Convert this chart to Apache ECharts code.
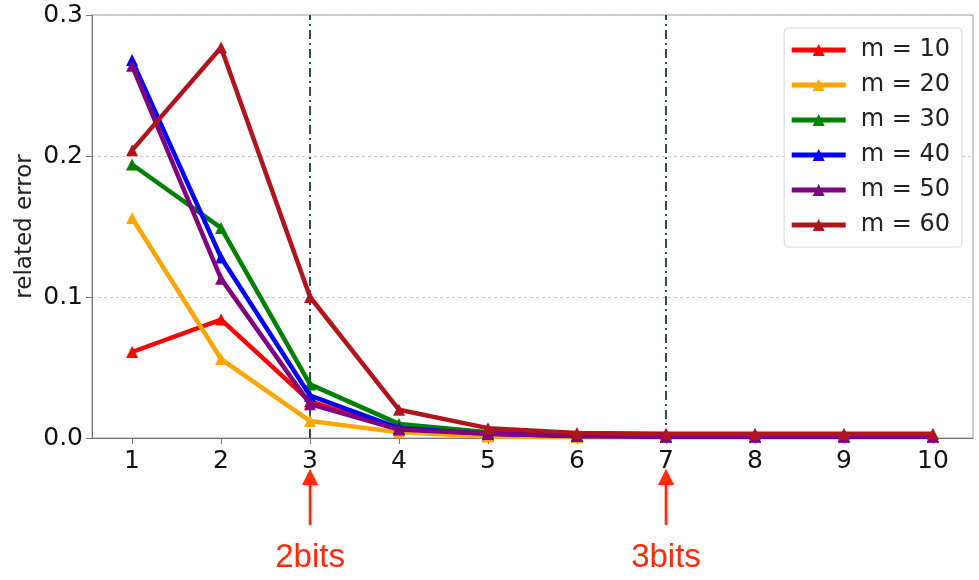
<!DOCTYPE html>
<html>
<head>
<meta charset="utf-8">
<script src="https://cdn.jsdelivr.net/npm/echarts@6/dist/echarts.min.js"></script>
<style>
  html, body { margin: 0; padding: 0; background: #fff; }
  #chart { width: 979px; height: 580px; }
</style>
</head>
<body>
<div id="chart"></div>
<script>
// Number of bits index on the x axis
const xValues = [1, 2, 3, 4, 5, 6, 7, 8, 9, 10];
const yTicks = [0, 0.1, 0.2, 0.3];

// Related error per setting of m
const errM10 = [0.061, 0.084, 0.026, 0.006, 0.002, 0.001, 0.001, 0.001, 0.001, 0.001];
const errM20 = [0.156, 0.056, 0.012, 0.004, 0.001, 0.0005, 0.0005, 0.0005, 0.0005, 0.0005];
const errM30 = [0.194, 0.149, 0.038, 0.010, 0.004, 0.002, 0.0015, 0.0015, 0.0015, 0.0015];
const errM40 = [0.268, 0.128, 0.030, 0.007, 0.003, 0.0015, 0.001, 0.001, 0.001, 0.001];
const errM50 = [0.264, 0.113, 0.024, 0.006, 0.003, 0.0015, 0.001, 0.001, 0.001, 0.001];
const errM60 = [0.204, 0.277, 0.100, 0.020, 0.007, 0.0035, 0.003, 0.003, 0.003, 0.003];

const seriesNames = ['m = 10', 'm = 20', 'm = 30', 'm = 40', 'm = 50', 'm = 60'];
const seriesData = [errM10, errM20, errM30, errM40, errM50, errM60];
const seriesColors = ['#ff0000', '#ffa500', '#008000', '#0000ff', '#800080', '#b0141e'];

// Bit-boundary markers
const bitMarks = [3, 7];
const bitLabels = ['2bits', '3bits'];

const chart = echarts.init(document.getElementById('chart'), null, { renderer: 'canvas' });

const font = 'DejaVu Sans';

const series = seriesData.map((vals, i) => {
  const s = {
    name: seriesNames[i],
    type: 'line',
    data: vals.map((v, k) => [xValues[k], v]),
    symbol: 'triangle',
    symbolSize: 12,
    showAllSymbol: true,
    lineStyle: { width: 4.5, color: seriesColors[i] },
    itemStyle: { color: seriesColors[i] },
    z: 3 + i,
    animation: false
  };
  if (i === 0) {
    s.markLine = {
      silent: true,
      symbol: 'none',
      label: { show: false },
      lineStyle: { color: '#2f4f4f', width: 2, type: [9, 4, 2, 4] },
      data: bitMarks.map(b => ({ xAxis: b })),
      z: 2
    };
  }
  return s;
});

chart.setOption({
  animation: false,
  backgroundColor: '#ffffff',
  grid: {
    left: 92, right: 6, top: 15, bottom: 142,
    show: true, borderColor: '#999', borderWidth: 1, backgroundColor: 'transparent'
  },
  legend: {
    orient: 'vertical',
    right: 17, top: 28,
    data: seriesNames,
    itemWidth: 54, itemHeight: 15,
    itemGap: 11,
    padding: [10, 12, 10, 5],
    backgroundColor: '#fff',
    borderColor: '#d8d8d8',
    borderWidth: 1,
    borderRadius: 4,
    lineStyle: { width: 5 },
    textStyle: { fontFamily: font, fontSize: 24, color: '#222', padding: [0, 0, 0, 10] }
  },
  xAxis: {
    type: 'value',
    min: 0.55, max: 10.45,
    axisLine: { show: true, lineStyle: { color: '#777', width: 1 } },
    axisTick: { show: true, length: 6, lineStyle: { color: '#777' }, customValues: xValues },
    axisLabel: {
      fontFamily: font, fontSize: 25, color: '#111', margin: 11,
      customValues: xValues,
      formatter: v => String(v)
    },
    splitLine: { show: false }
  },
  yAxis: {
    type: 'value',
    min: 0, max: 0.3, interval: 0.1,
    name: 'related error',
    nameLocation: 'middle',
    nameGap: 55,
    nameMoveOverlap: false,
    nameTextStyle: { fontFamily: font, fontSize: 23, color: '#222' },
    axisLine: { show: true, lineStyle: { color: '#777', width: 1 } },
    axisTick: { show: true, length: 6, lineStyle: { color: '#777' } },
    axisLabel: {
      fontFamily: font, fontSize: 25, color: '#111', margin: 9,
      formatter: v => v.toFixed(1)
    },
    splitLine: { show: true, lineStyle: { color: '#c8c8c8', type: [3, 3], width: 1 } }
  },
  series: series
});

// Red arrows and bit labels under the axis at the marked x positions
const arrowColor = '#ff2a0a';
const graphics = [];
bitMarks.forEach((b, i) => {
  const px = chart.convertToPixel({ xAxisIndex: 0 }, b);
  graphics.push({
    type: 'line',
    shape: { x1: px, y1: 482, x2: px, y2: 525 },
    style: { stroke: arrowColor, lineWidth: 2.5, shadowBlur: 3, shadowColor: 'rgba(0,0,0,0.25)', shadowOffsetX: 1, shadowOffsetY: 1 },
    silent: true
  });
  graphics.push({
    type: 'polygon',
    shape: { points: [[px, 469], [px - 8, 485], [px + 8, 485]] },
    style: { fill: arrowColor, shadowBlur: 3, shadowColor: 'rgba(0,0,0,0.25)', shadowOffsetX: 1, shadowOffsetY: 1 },
    silent: true
  });
  graphics.push({
    type: 'text',
    x: px, y: 558,
    style: {
      text: bitLabels[i],
      fill: arrowColor,
      font: '33px "Liberation Sans", Arial, sans-serif',
      align: 'center',
      verticalAlign: 'middle'
    },
    silent: true
  });
});
chart.setOption({ graphic: graphics });
</script>
</body>
</html>
